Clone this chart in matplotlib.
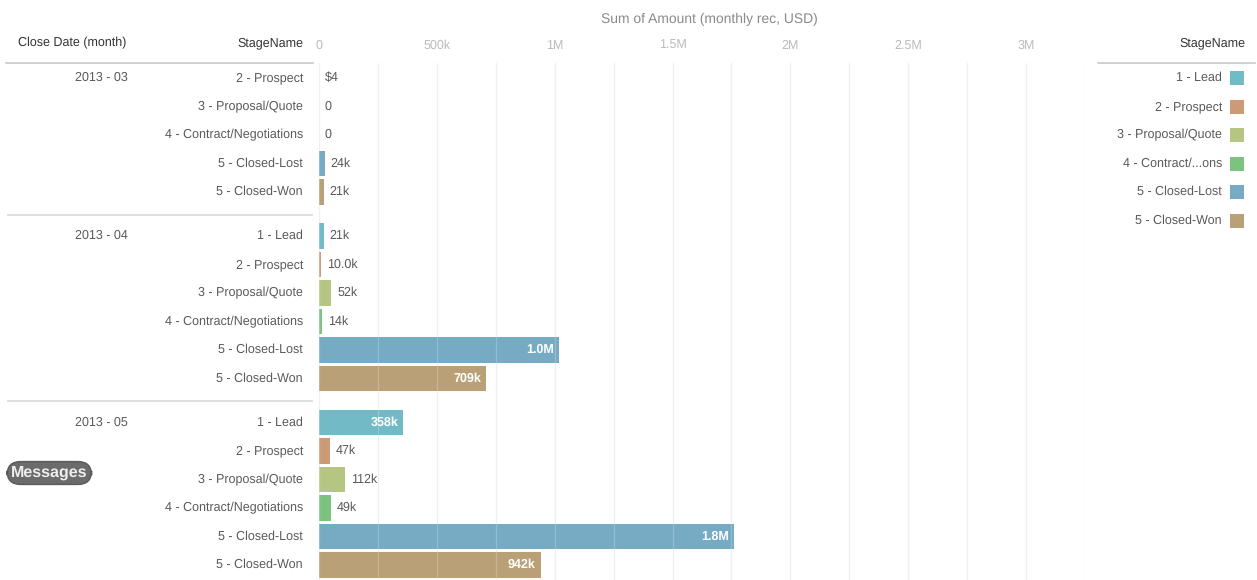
import matplotlib
matplotlib.use("Agg")
import matplotlib.pyplot as plt
from matplotlib.lines import Line2D
from matplotlib.transforms import blended_transform_factory

plt.rcParams['font.family'] = ['Liberation Sans', 'DejaVu Sans']
plt.rcParams['text.hinting'] = 'no_hinting'

# ---------------- data ----------------
months = ["2013 - 03", "2013 - 04", "2013 - 05"]
stages = ["1 - Lead", "2 - Prospect", "3 - Proposal/Quote",
          "4 - Contract/Negotiations", "5 - Closed-Lost", "5 - Closed-Won"]
legend_labels = ["1 - Lead", "2 - Prospect", "3 - Proposal/Quote",
                 "4 - Contract/...ons", "5 - Closed-Lost", "5 - Closed-Won"]
stage_colors = ["#72bac6", "#cc9a76", "#b5c683", "#7cc37f", "#77aac3", "#b9a077"]

# per month: stage index, amount, shown label
mar_stage = [1, 2, 3, 4, 5]
mar_amount = [4, 0, 0, 24000, 21000]
mar_label = ["$4", "0", "0", "24k", "21k"]

apr_stage = [0, 1, 2, 3, 4, 5]
apr_amount = [21000, 10000, 52000, 14000, 1020000, 709000]
apr_label = ["21k", "10.0k", "52k", "14k", "1.0M", "709k"]

may_stage = [0, 1, 2, 3, 4, 5]
may_amount = [358000, 47000, 112000, 49000, 1760000, 942000]
may_label = ["358k", "47k", "112k", "49k", "1.8M", "942k"]

xticks = [0, 500000, 1000000, 1500000, 2000000, 2500000, 3000000]
xtick_labels = ["0", "500k", "1M", "1.5M", "2M", "2.5M", "3M"]

groups = [(months[0], mar_stage, mar_amount, mar_label),
          (months[1], apr_stage, apr_amount, apr_label),
          (months[2], may_stage, may_amount, may_label)]

# ---------------- figure ----------------
W, H = 1257, 580
fig = plt.figure(figsize=(W / 100, H / 100), dpi=100)
fig.patch.set_facecolor("white")

def fx(px):
    return px / W

def fy(py):
    return 1 - py / H

ax_left, ax_right, ax_top, ax_bot = 319, 1085, 63, 580
ax = fig.add_axes([fx(ax_left), fy(ax_bot), fx(ax_right - ax_left), (ax_bot - ax_top) / H])

row_h = 28.5
gap = 0.544
y0_top = -(78 - ax_top) / row_h
y_bot = (ax_bot - 78) / row_h
ax.set_ylim(y_bot, y0_top)
xmax = 3250000
ax.set_xlim(0, xmax)

trans_fy = blended_transform_factory(fig.transFigure, ax.transData)

text_col = "#5a5a5a"
head_col = "#333333"
fs = 9.0

# gridlines (under bars and faint over bars)
grid_x = [i * 250000 for i in range(0, 14)]
for gx in grid_x:
    ax.axvline(gx, color="#ececec", lw=0.9, zorder=0)
    ax.axvline(gx, color="white", lw=0.9, alpha=0.22, zorder=3)

y = 0.0
sep_ys = []
for gi, (mon, st, amt, lab) in enumerate(groups):
    ys = [y + i for i in range(len(st))]
    cols = [stage_colors[s] for s in st]
    ax.barh(ys, amt, height=0.91, color=cols, zorder=2, linewidth=0)
    for yy, s, a, l in zip(ys, st, amt, lab):
        fig.text(fx(303), yy, stages[s], transform=trans_fy, ha="right", va="center",
                 fontsize=fs, color=text_col)
        if a > 250000:
            ax.text(a - 22000, yy, l, ha="right", va="center", fontsize=fs,
                    color="white", fontweight="bold", zorder=4)
        else:
            ax.text(a + 25000, yy, l, ha="left", va="center", fontsize=fs,
                    color=text_col, zorder=4)
    fig.text(fx(128), ys[0], mon, transform=trans_fy, ha="right", va="center",
             fontsize=fs, color=text_col)
    y = ys[-1] + 1 + gap
    if gi < len(groups) - 1:
        sep_ys.append(ys[-1] + 0.5 + gap / 2 + 0.02)

for sy in sep_ys:
    fig.add_artist(Line2D([fx(8), fx(312)], [sy, sy], transform=trans_fy,
                          color="#dadada", lw=1.2))

ax.set_xticks(xticks)
ax.set_xticklabels(xtick_labels)
ax.xaxis.tick_top()
ax.tick_params(axis="x", length=0, pad=8, labelsize=fs, labelcolor="#bbbbbb")
ax.set_yticks([])
for sp in ax.spines.values():
    sp.set_visible(False)

# headers
fig.text(fx(18), fy(43), "Close Date (month)", ha="left", va="center", fontsize=fs, color=head_col)
fig.text(fx(303), fy(43), "StageName", ha="right", va="center", fontsize=fs, color=head_col)
fig.text(fx(709), fy(19), "Sum of Amount (monthly rec, USD)", ha="center", va="center",
         fontsize=10, color="#8a8a8a")
fig.add_artist(Line2D([fx(6), fx(313)], [fy(63), fy(63)], color="#c8c8c8", lw=1.2))

# legend
leg_left, leg_right = 1098, 1257
lax = fig.add_axes([fx(leg_left), fy(ax_bot), fx(leg_right - leg_left), (ax_bot - ax_top) / H])
lax.set_xlim(leg_left, leg_right)
lax.set_ylim(y_bot, y0_top)
lax.axis("off")
for i, (lbl, c) in enumerate(zip(legend_labels, stage_colors)):
    lax.scatter([1237], [i], s=100, marker="s", color=c, linewidths=0)
    lax.text(1222, i, lbl, ha="right", va="center", fontsize=fs, color=text_col)
fig.text(fx(1245), fy(43), "StageName", ha="right", va="center", fontsize=fs, color=head_col)
fig.add_artist(Line2D([fx(1098), fx(1255)], [fy(63), fy(63)], color="#c8c8c8", lw=1.2))

# messages pill
fig.text(fx(11), fy(473), "Messages", ha="left", va="center", fontsize=11.5,
         color="#eeeeee", fontweight="bold",
         bbox=dict(boxstyle="round,pad=0.25,rounding_size=0.85", facecolor="#6b6b6b",
                   edgecolor="#5a5a5a"))

fig.savefig("out.png", dpi=100, facecolor="white")
